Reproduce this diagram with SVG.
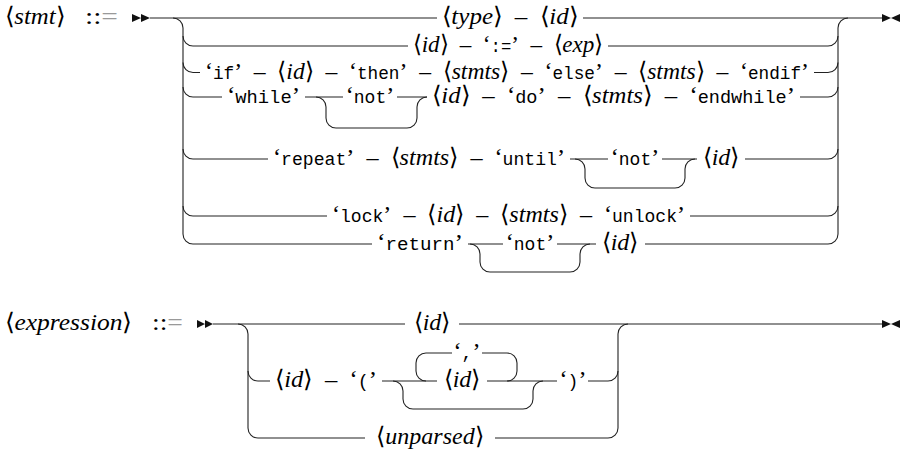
<svg xmlns="http://www.w3.org/2000/svg" width="903" height="452" viewBox="0 0 903 452">
<defs>
<style>
.g{fill:#999}
.w{fill:none;stroke:#222;stroke-width:1.1}
.ar{fill:#111}
</style>
</defs>
<rect width="903" height="452" fill="#fff"/>

<g id="connectors">
<path class="w" d="M150,18 H437 M583,18 H882"/>
<path class="w" d="M173,18 A10,10 0 0 1 183,28 V234 A10,10 0 0 0 193,244"/>
<path class="w" d="M183,36 A10,10 0 0 0 193,46 H408 M608,46 H828 A10,10 0 0 0 838,36"/>
<path class="w" d="M183,62.5 A10,10 0 0 0 193,72.5 H200 M814,72.5 H828 A10,10 0 0 0 838,62.5"/>
<path class="w" d="M183,87 A10,10 0 0 0 193,97 H222 M305,97 H343 M397,97 H427 M800,97 H828 A10,10 0 0 0 838,87"/>
<path class="w" d="M316,97 A10,10 0 0 1 326,107 V118 A10,10 0 0 0 336,128 H407 A10,10 0 0 0 417,118 V107 A10,10 0 0 1 427,97"/>
<path class="w" d="M183,149 A10,10 0 0 0 193,159 H268 M570,159 H608 M662,159 H697 M745,159 H828 A10,10 0 0 0 838,149"/>
<path class="w" d="M575,159 A10,10 0 0 1 585,169 V178 A10,10 0 0 0 595,188 H675 A10,10 0 0 0 685,178 V169 A10,10 0 0 1 695,159"/>
<path class="w" d="M183,206 A10,10 0 0 0 193,216 H327 M690,216 H828 A10,10 0 0 0 838,206"/>
<path class="w" d="M193,244 H372 M468,244 H503 M557,244 H596 M645,244 H828 A10,10 0 0 0 838,234 V28 A10,10 0 0 1 848,18"/>
<path class="w" d="M470,244 A10,10 0 0 1 480,254 V262 A10,10 0 0 0 490,272 H570 A10,10 0 0 0 580,262 V254 A10,10 0 0 1 590,244"/>
<path class="ar" d="M132,14 L141,18 L132,22 Z M141,14 L150,18 L141,22 Z"/>
<path class="ar" d="M882,14 L891,18 L882,22 Z M900,14 L891,18 L900,22 Z"/>
<path class="w" d="M213,324 H405 M459,324 H882"/>
<path class="w" d="M238,324 A10,10 0 0 1 248,334 V428 A10,10 0 0 0 258,438 H365 M495,438 H608 A10,10 0 0 0 618,428 V334 A10,10 0 0 1 628,324"/>
<path class="w" d="M248,371 A10,10 0 0 0 258,381 H270 M382,381 H437 M487,381 H557 M588,381 H608 A10,10 0 0 0 618,371"/>
<path class="w" d="M426,381 A10,10 0 0 1 416,371 V363 A10,10 0 0 1 426,353 H452 M482,353 H507 A10,10 0 0 1 517,363 V371 A10,10 0 0 1 507,381"/>
<path class="w" d="M393,381 A10,10 0 0 1 403,391 V399 A10,10 0 0 0 413,409 H523 A10,10 0 0 0 533,399 V391 A10,10 0 0 1 543,381"/>
<path class="ar" d="M197,320 L205,324 L197,328 Z M205,320 L213,324 L205,328 Z"/>
<path class="ar" d="M882,320 L891,324 L882,328 Z M900,320 L891,324 L900,328 Z"/>
</g>

<g font-family="Liberation Serif" font-size="24" fill="#000">
<g id="stmt-head"><text x="5" y="24" textLength="60" lengthAdjust="spacingAndGlyphs"><tspan font-family="DejaVu Sans" font-weight="200">⟨</tspan><tspan font-style="italic">stmt</tspan><tspan font-family="DejaVu Sans" font-weight="200">⟩</tspan></text><text x="85" y="24" textLength="33" lengthAdjust="spacingAndGlyphs">::<tspan class="g">=</tspan></text></g>

<g id="alt-type"><text x="442" y="24" textLength="136" lengthAdjust="spacingAndGlyphs"><tspan font-family="DejaVu Sans" font-weight="200">⟨</tspan><tspan font-style="italic">type</tspan><tspan font-family="DejaVu Sans" font-weight="200">⟩</tspan>&#8194;–&#8194;<tspan font-family="DejaVu Sans" font-weight="200">⟨</tspan><tspan font-style="italic">id</tspan><tspan font-family="DejaVu Sans" font-weight="200">⟩</tspan></text></g>
<g id="alt-assign"><text x="413" y="52" textLength="190" lengthAdjust="spacingAndGlyphs"><tspan font-family="DejaVu Sans" font-weight="200">⟨</tspan><tspan font-style="italic">id</tspan><tspan font-family="DejaVu Sans" font-weight="200">⟩</tspan>&#8194;–&#8194;‘<tspan font-family="Liberation Mono" font-size="18">:=</tspan>’&#8194;–&#8194;<tspan font-family="DejaVu Sans" font-weight="200">⟨</tspan><tspan font-style="italic">exp</tspan><tspan font-family="DejaVu Sans" font-weight="200">⟩</tspan></text></g>
<g id="alt-if"><text x="205" y="78.5" textLength="604" lengthAdjust="spacingAndGlyphs">‘<tspan font-family="Liberation Mono" font-size="18">if</tspan>’&#8194;–&#8194;<tspan font-family="DejaVu Sans" font-weight="200">⟨</tspan><tspan font-style="italic">id</tspan><tspan font-family="DejaVu Sans" font-weight="200">⟩</tspan>&#8194;–&#8194;‘<tspan font-family="Liberation Mono" font-size="18">then</tspan>’&#8194;–&#8194;<tspan font-family="DejaVu Sans" font-weight="200">⟨</tspan><tspan font-style="italic">stmts</tspan><tspan font-family="DejaVu Sans" font-weight="200">⟩</tspan>&#8194;–&#8194;‘<tspan font-family="Liberation Mono" font-size="18">else</tspan>’&#8194;–&#8194;<tspan font-family="DejaVu Sans" font-weight="200">⟨</tspan><tspan font-style="italic">stmts</tspan><tspan font-family="DejaVu Sans" font-weight="200">⟩</tspan>&#8194;–&#8194;‘<tspan font-family="Liberation Mono" font-size="18">endif</tspan>’</text></g>
<g id="alt-while">
<text x="227" y="103" textLength="73" lengthAdjust="spacingAndGlyphs">‘<tspan font-family="Liberation Mono" font-size="18">while</tspan>’</text>
<text x="370" y="103" text-anchor="middle">‘<tspan font-family="Liberation Mono" font-size="18">not</tspan>’</text>
<text x="432" y="103" textLength="363" lengthAdjust="spacingAndGlyphs"><tspan font-family="DejaVu Sans" font-weight="200">⟨</tspan><tspan font-style="italic">id</tspan><tspan font-family="DejaVu Sans" font-weight="200">⟩</tspan>&#8194;–&#8194;‘<tspan font-family="Liberation Mono" font-size="18">do</tspan>’&#8194;–&#8194;<tspan font-family="DejaVu Sans" font-weight="200">⟨</tspan><tspan font-style="italic">stmts</tspan><tspan font-family="DejaVu Sans" font-weight="200">⟩</tspan>&#8194;–&#8194;‘<tspan font-family="Liberation Mono" font-size="18">endwhile</tspan>’</text>
</g>
<g id="alt-repeat">
<text x="273" y="165" textLength="292" lengthAdjust="spacingAndGlyphs">‘<tspan font-family="Liberation Mono" font-size="18">repeat</tspan>’&#8194;–&#8194;<tspan font-family="DejaVu Sans" font-weight="200">⟨</tspan><tspan font-style="italic">stmts</tspan><tspan font-family="DejaVu Sans" font-weight="200">⟩</tspan>&#8194;–&#8194;‘<tspan font-family="Liberation Mono" font-size="18">until</tspan>’</text>
<text x="635" y="165" text-anchor="middle">‘<tspan font-family="Liberation Mono" font-size="18">not</tspan>’</text>
<text x="721" y="165" text-anchor="middle"><tspan font-family="DejaVu Sans" font-weight="200">⟨</tspan><tspan font-style="italic">id</tspan><tspan font-family="DejaVu Sans" font-weight="200">⟩</tspan></text>
</g>
<g id="alt-lock"><text x="332" y="222" textLength="353" lengthAdjust="spacingAndGlyphs">‘<tspan font-family="Liberation Mono" font-size="18">lock</tspan>’&#8194;–&#8194;<tspan font-family="DejaVu Sans" font-weight="200">⟨</tspan><tspan font-style="italic">id</tspan><tspan font-family="DejaVu Sans" font-weight="200">⟩</tspan>&#8194;–&#8194;<tspan font-family="DejaVu Sans" font-weight="200">⟨</tspan><tspan font-style="italic">stmts</tspan><tspan font-family="DejaVu Sans" font-weight="200">⟩</tspan>&#8194;–&#8194;‘<tspan font-family="Liberation Mono" font-size="18">unlock</tspan>’</text></g>
<g id="alt-return">
<text x="377" y="250" textLength="86" lengthAdjust="spacingAndGlyphs">‘<tspan font-family="Liberation Mono" font-size="18">return</tspan>’</text>
<text x="530" y="250" text-anchor="middle">‘<tspan font-family="Liberation Mono" font-size="18">not</tspan>’</text>
<text x="620" y="250" text-anchor="middle"><tspan font-family="DejaVu Sans" font-weight="200">⟨</tspan><tspan font-style="italic">id</tspan><tspan font-family="DejaVu Sans" font-weight="200">⟩</tspan></text>
</g>

<g id="expression-head"><text x="5" y="330" textLength="127" lengthAdjust="spacingAndGlyphs"><tspan font-family="DejaVu Sans" font-weight="200">⟨</tspan><tspan font-style="italic">expression</tspan><tspan font-family="DejaVu Sans" font-weight="200">⟩</tspan></text><text x="152" y="330" textLength="31" lengthAdjust="spacingAndGlyphs">::<tspan class="g">=</tspan></text></g>
<g id="expr-id"><text x="432" y="330" text-anchor="middle"><tspan font-family="DejaVu Sans" font-weight="200">⟨</tspan><tspan font-style="italic">id</tspan><tspan font-family="DejaVu Sans" font-weight="200">⟩</tspan></text></g>
<g id="expr-call">
<text x="275" y="387" textLength="102" lengthAdjust="spacingAndGlyphs"><tspan font-family="DejaVu Sans" font-weight="200">⟨</tspan><tspan font-style="italic">id</tspan><tspan font-family="DejaVu Sans" font-weight="200">⟩</tspan>&#8194;–&#8194;‘<tspan font-family="Liberation Mono" font-size="18">(</tspan>’</text>
<text x="462" y="387" text-anchor="middle"><tspan font-family="DejaVu Sans" font-weight="200">⟨</tspan><tspan font-style="italic">id</tspan><tspan font-family="DejaVu Sans" font-weight="200">⟩</tspan></text>
<text x="467" y="359" text-anchor="middle">‘<tspan font-family="Liberation Mono" font-size="18">,</tspan>’</text>
<text x="573" y="387" text-anchor="middle">‘<tspan font-family="Liberation Mono" font-size="18">)</tspan>’</text>
</g>
<g id="expr-unparsed"><text x="430" y="444" text-anchor="middle"><tspan font-family="DejaVu Sans" font-weight="200">⟨</tspan><tspan font-style="italic">unparsed</tspan><tspan font-family="DejaVu Sans" font-weight="200">⟩</tspan></text></g>
</g>
</svg>
